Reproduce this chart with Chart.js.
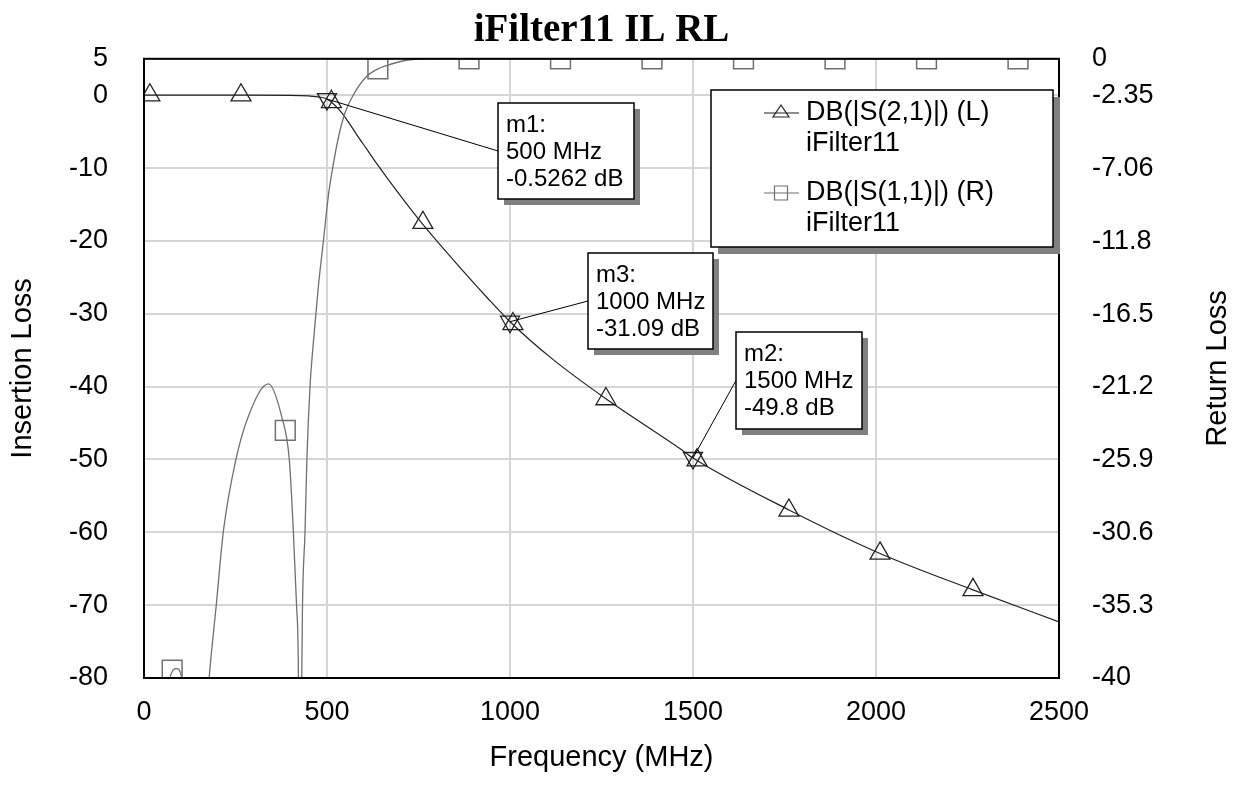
<!DOCTYPE html>
<html>
<head>
<meta charset="utf-8">
<title>iFilter11 IL RL</title>
<script src="https://cdn.jsdelivr.net/npm/chart.js@4.4.0/dist/chart.umd.min.js"></script>
<style>
    html, body { margin: 0; padding: 0; background: #fff; }
    #chart-wrap { width: 1234px; height: 785px; }
</style>
</head>
<body>
<div id="chart-wrap"><canvas id="filter-chart" width="1234" height="785"></canvas></div>
<script>
// axis ticks
var freqTicks = [0, 500, 1000, 1500, 2000, 2500];
var ilTicks = [5, 0, -10, -20, -30, -40, -50, -60, -70, -80];
var rlTicks = [0, -2.35, -7.06, -11.8, -16.5, -21.2, -25.9, -30.6, -35.3, -40];

// DB(|S(2,1)|) - left axis
var s21Freq = [0, 250, 400, 450, 480, 500, 520, 540, 560, 581, 610, 636, 690, 763, 845, 936, 1000, 1118, 1260, 1464, 1500, 1765, 2011, 2265, 2500];
var s21Db = [0, 0, -0.02, -0.1, -0.25, -0.5262, -1.3, -2.4, -3.8, -5.4, -7.5, -9.4, -13.1, -17.8, -22.6, -27.7, -31.09, -36.3, -41.6, -48.5, -49.8, -57.0, -62.9, -67.9, -72.3];
var s21SymFreq = [16, 265, 512, 762, 1008, 1262, 1511, 1762, 2011, 2265];
var s21SymDb = [0, 0, -0.9, -17.5, -31.4, -41.7, -50.1, -57.0, -62.9, -67.9];

// DB(|S(1,1)|) - right axis
var s11Freq = [0, 60, 71, 89, 103, 120, 160, 178, 197, 217, 251, 285, 340, 376, 397, 408, 417, 422, 426, 431, 433, 440, 445, 454, 461, 476, 490, 504, 517, 531, 549, 572, 608, 639, 654, 727, 800, 2500];
var s11Db = [-60, -44, -40, -39.4, -40, -46, -46, -40, -35.4, -30.5, -25.9, -23.1, -21.0, -23.1, -25.9, -30.5, -35.4, -40, -60, -40, -35.4, -30.5, -25.9, -21.0, -18.8, -14.8, -11.8, -8.8, -6.85, -5.1, -3.5, -2.33, -1.14, -0.65, -0.5, -0.06, 0, 0];
var s11SymFreq = [77, 386, 639, 888, 1138, 1388, 1638, 1888, 2138, 2388];
var s11SymDb = [-39.5, -24.0, -0.65, 0, 0, 0, 0, 0, 0, 0];

// markers
var markerNames = ['m1', 'm3', 'm2'];
var markerFreq = [500, 1000, 1500];
var markerDb = [-0.5262, -31.09, -49.8];

var legendLabels = ['DB(|S(2,1)|) (L)', 'DB(|S(1,1)|) (R)'];
var legendSource = 'iFilter11';

var SANS = '"Liberation Sans", Arial, sans-serif';

var filterChart = {
    ui: {
        canvas: document.getElementById('filter-chart'),
        noteBoxes: [
            { x: 498, y: 103, w: 136, h: 96 },
            { x: 588, y: 253, w: 125, h: 96 },
            { x: 736, y: 332, w: 126, h: 97 }
        ],
        legendBox: { x: 711, y: 90, w: 342, h: 157 }
    },
    toPoints: function (xs, ys) {
        return xs.map(function (x, i) { return { x: x, y: ys[i] }; });
    },
    drawNote: function (ctx, box, lines) {
        ctx.fillStyle = '#808080';
        ctx.fillRect(box.x + 6, box.y + 6, box.w, box.h);
        ctx.fillStyle = '#fff';
        ctx.fillRect(box.x, box.y, box.w, box.h);
        ctx.strokeStyle = '#000';
        ctx.lineWidth = 1.5;
        ctx.strokeRect(box.x, box.y, box.w, box.h);
        ctx.fillStyle = '#000';
        ctx.font = '24px ' + SANS;
        ctx.textAlign = 'left';
        ctx.textBaseline = 'middle';
        lines.forEach(function (t, i) {
            ctx.fillText(t, box.x + 8, box.y + 22 + i * 27);
        });
    },
    drawLegend: function (ctx) {
        var b = filterChart.ui.legendBox;
        ctx.fillStyle = '#808080';
        ctx.fillRect(b.x + 7, b.y + 7, b.w, b.h);
        ctx.fillStyle = '#fff';
        ctx.fillRect(b.x, b.y, b.w, b.h);
        ctx.strokeStyle = '#000';
        ctx.lineWidth = 1.5;
        ctx.strokeRect(b.x, b.y, b.w, b.h);

        var rows = [b.y + 23, b.y + 103];
        var colors = ['#222', '#707070'];
        rows.forEach(function (ry, i) {
            ctx.strokeStyle = colors[i];
            ctx.lineWidth = 1.2;
            ctx.beginPath();
            ctx.moveTo(764, ry);
            ctx.lineTo(799, ry);
            ctx.stroke();
            ctx.beginPath();
            if (i === 0) {
                ctx.moveTo(781, ry - 8);
                ctx.lineTo(789, ry + 4);
                ctx.lineTo(773, ry + 4);
                ctx.closePath();
            } else {
                ctx.rect(774.5, ry - 7, 13, 14);
            }
            ctx.stroke();
            ctx.fillStyle = '#000';
            ctx.font = '27px ' + SANS;
            ctx.textAlign = 'left';
            ctx.textBaseline = 'middle';
            ctx.fillText(legendLabels[i], 806, ry);
            ctx.fillText(legendSource, 806, ry + 31);
        });
    },
    overlay: {
        id: 'filterOverlay',
        afterDraw: function (chart) {
            var ctx = chart.ctx;
            var area = chart.chartArea;
            var xs = chart.scales.x;
            var ys = chart.scales.yL;
            ctx.save();

            // plot frame
            ctx.strokeStyle = '#000';
            ctx.lineWidth = 2;
            ctx.strokeRect(area.left, area.top, area.right - area.left, area.bottom - area.top);

            // right axis title, reads bottom to top like the left one
            ctx.save();
            ctx.translate(1218, (area.top + area.bottom) / 2);
            ctx.rotate(-Math.PI / 2);
            ctx.fillStyle = '#000';
            ctx.font = '29px ' + SANS;
            ctx.textAlign = 'center';
            ctx.textBaseline = 'middle';
            ctx.fillText('Return Loss', 0, 0);
            ctx.restore();

            // marker leaders + boxes
            markerNames.forEach(function (name, i) {
                var box = filterChart.ui.noteBoxes[i];
                ctx.strokeStyle = '#000';
                ctx.lineWidth = 1;
                ctx.beginPath();
                ctx.moveTo(xs.getPixelForValue(markerFreq[i]), ys.getPixelForValue(markerDb[i]));
                ctx.lineTo(box.x, box.y + box.h / 2);
                ctx.stroke();
            });
            markerNames.forEach(function (name, i) {
                filterChart.drawNote(ctx, filterChart.ui.noteBoxes[i], [
                    name + ':',
                    markerFreq[i] + ' MHz',
                    markerDb[i] + ' dB'
                ]);
            });

            filterChart.drawLegend(ctx);
            ctx.restore();
        }
    },
    init: function () {
        var ctx = filterChart.ui.canvas.getContext('2d');
        var gridColor = '#d6d6d6';
        var tickFont = { family: SANS, size: 27 };
        var titleFont = { family: SANS, size: 29 };
        var plainLabel = function (v) { return String(v); };

        new Chart(ctx, {
            type: 'scatter',
            data: {
                datasets: [
                    {
                        label: 'S11',
                        data: filterChart.toPoints(s11Freq, s11Db),
                        yAxisID: 'yR',
                        showLine: true,
                        borderColor: '#707070',
                        borderWidth: 1.3,
                        pointRadius: 0,
                        cubicInterpolationMode: 'monotone',
                        clip: 0
                    },
                    {
                        label: 'S21',
                        data: filterChart.toPoints(s21Freq, s21Db),
                        yAxisID: 'yL',
                        showLine: true,
                        borderColor: '#222',
                        borderWidth: 1.2,
                        pointRadius: 0,
                        cubicInterpolationMode: 'monotone',
                        clip: 0
                    },
                    {
                        label: 'S11 symbols',
                        data: filterChart.toPoints(s11SymFreq, s11SymDb),
                        yAxisID: 'yR',
                        showLine: false,
                        pointStyle: 'rect',
                        pointRadius: 14,
                        pointBorderWidth: 1.5,
                        pointBorderColor: '#707070',
                        pointBackgroundColor: 'rgba(0,0,0,0)',
                        clip: 0
                    },
                    {
                        label: 'S21 symbols',
                        data: filterChart.toPoints(s21SymFreq, s21SymDb),
                        yAxisID: 'yL',
                        showLine: false,
                        pointStyle: 'triangle',
                        pointRadius: 11.5,
                        pointBorderWidth: 1.3,
                        pointBorderColor: '#222',
                        pointBackgroundColor: 'rgba(0,0,0,0)',
                        clip: 0
                    },
                    {
                        label: 'markers',
                        data: filterChart.toPoints(markerFreq, markerDb),
                        yAxisID: 'yL',
                        showLine: false,
                        pointStyle: 'triangle',
                        pointRotation: 180,
                        pointRadius: 11,
                        pointBorderWidth: 1.3,
                        pointBorderColor: '#222',
                        pointBackgroundColor: 'rgba(0,0,0,0)',
                        clip: 0
                    }
                ]
            },
            options: {
                responsive: false,
                animation: false,
                devicePixelRatio: 1,
                layout: { padding: 0 },
                plugins: {
                    legend: { display: false },
                    tooltip: { enabled: false },
                    title: {
                        display: true,
                        text: 'iFilter11 IL RL',
                        fullSize: false,
                        color: '#000',
                        font: { family: '"Liberation Serif", "Times New Roman", serif', size: 39, weight: 'bold', lineHeight: 1.2 },
                        padding: { top: 8, bottom: 4 }
                    }
                },
                scales: {
                    x: {
                        type: 'linear',
                        min: 0,
                        max: 2500,
                        afterBuildTicks: function (scale) {
                            scale.ticks = freqTicks.map(function (v) { return { value: v }; });
                        },
                        afterFit: function (scale) { scale.height = 107; },
                        grid: { color: gridColor, lineWidth: 2, drawTicks: false },
                        border: { display: false },
                        ticks: { color: '#000', font: tickFont, padding: 18, maxRotation: 0, callback: plainLabel },
                        title: { display: true, text: 'Frequency (MHz)', color: '#000', font: titleFont, padding: { top: 0, bottom: 10 } }
                    },
                    yL: {
                        type: 'linear',
                        position: 'left',
                        min: -80,
                        max: 5,
                        afterBuildTicks: function (scale) {
                            scale.ticks = ilTicks.map(function (v) { return { value: v }; });
                        },
                        afterFit: function (scale) { scale.width = 144; },
                        grid: { color: gridColor, lineWidth: 2, drawTicks: false },
                        border: { display: false },
                        ticks: { color: '#000', font: tickFont, padding: 36, callback: plainLabel },
                        title: { display: true, text: 'Insertion Loss', color: '#000', font: titleFont, padding: { top: 6, bottom: 0 } }
                    },
                    yR: {
                        type: 'linear',
                        position: 'right',
                        min: -40,
                        max: 0,
                        afterBuildTicks: function (scale) {
                            scale.ticks = rlTicks.map(function (v) { return { value: v }; });
                        },
                        afterFit: function (scale) { scale.width = 175; },
                        grid: { display: false, drawTicks: false },
                        border: { display: false },
                        ticks: { color: '#000', font: tickFont, padding: 33, callback: plainLabel }
                    }
                }
            },
            plugins: [filterChart.overlay]
        });
    }
};

filterChart.init();
</script>
</body>
</html>
